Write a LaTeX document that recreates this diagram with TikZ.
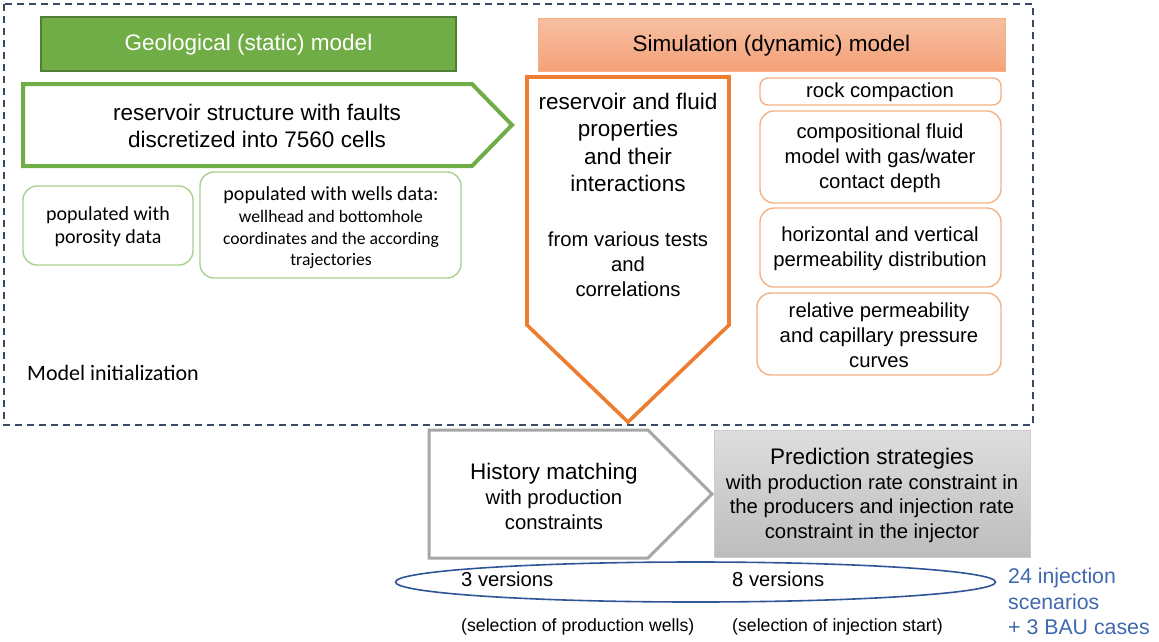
\documentclass[tikz,border=0pt]{standalone}
\usepackage{fontspec}
\setmainfont{Liberation Sans}
\newfontfamily\calibrifont{Carlito}
\definecolor{geo}{HTML}{70AD47}
\definecolor{geodark}{HTML}{507E32}
\definecolor{geolight}{HTML}{A9D18E}
\definecolor{orng}{HTML}{ED7D31}
\definecolor{orlight}{HTML}{F4B183}
\definecolor{ortop}{HTML}{F7C0A2}
\definecolor{orbot}{HTML}{F4A078}
\definecolor{dashc}{HTML}{3A4A66}
\definecolor{grayline}{HTML}{A6A6A6}
\definecolor{ellblue}{HTML}{2F5597}
\definecolor{txtblue}{HTML}{4068AE}
\tikzset{
  dashbox/.style={draw=dashc, line width=2pt, dash pattern=on 7pt off 5pt},
  greenarrow/.style={draw=geo, line width=4pt, line join=miter, fill=white},
  orangearrow/.style={draw=orng, line width=3.6pt, line join=miter, fill=white},
  grayarrow/.style={draw=grayline, line width=3pt, line join=miter, fill=white},
  greenbox/.style={draw=geolight, line width=1.4pt, rounded corners=14pt},
  orangebox/.style={draw=orlight, line width=1.4pt, rounded corners=14pt},
  txt/.style={inner sep=0pt, align=center, text=black},
  big/.style={font=\fontsize{22.5}{27.3}\selectfont},
  mid/.style={font=\fontsize{20.3}{24.8}\selectfont},
}
\begin{document}
\begin{tikzpicture}[x=1pt,y=-1pt]
\useasboundingbox (0,0) rectangle (1159,641);

% dashed frame
\draw[dashbox] (4,4) rectangle (1033,425);

% geological header
\path[fill=geo, draw=geodark, line width=1.2pt] (41,17) rectangle (456,71);
\node[txt, big, text=white] (geohead) at (248.5,44.5) {Geological (static) model};

% green arrow
\draw[greenarrow] (23,84) -- (472,84) -- (512,125) -- (472,166) -- (23,166) -- cycle;
\node[txt, big] (structure) at (257,126) {reservoir structure with faults\\discretized into 7560 cells};

% green small boxes
\draw[greenbox] (23,186) rectangle (193,265);
\node[txt, font=\calibrifont\fontsize{20}{23.5}\selectfont] (porosity) at (108,226.5) {populated with\\porosity data};
\draw[greenbox] (200,172) rectangle (461,278);
\node[txt, font=\calibrifont\fontsize{17.6}{21.7}\selectfont] (wells) at (331,228) {{\fontsize{20}{21.7}\selectfont populated with wells data:}\\wellhead and bottomhole\\coordinates and the according\\trajectories};

% model initialization
\node[txt, anchor=west, font=\calibrifont\fontsize{22}{26}\selectfont] (init) at (27,373) {Model initialization};

% simulation header
\path[top color=ortop, bottom color=orbot, draw=orlight, line width=0.8pt] (538,18) rectangle (1005,71);
\node[txt, big] (simhead) at (771.5,45.5) {Simulation (dynamic) model};

% orange down arrow
\draw[orangearrow] (527,77) -- (729,77) -- (729,325) -- (628,422) -- (527,325) -- cycle;
\node[txt, big] (props) at (628,142.5) {reservoir and fluid\\properties\\ and their\\interactions};
\node[txt, mid] (tests) at (628,264) {from various tests\\and\\correlations};

% orange right boxes
\draw[orangebox, rounded corners=8pt] (760,78) rectangle (1001,105);
\node[txt, mid] (rock) at (880,92) {rock compaction};
\draw[orangebox] (760,111) rectangle (1001,203);
\node[txt, mid] (comp) at (880,158.5) {compositional fluid\\model with gas/water\\contact depth};
\draw[orangebox] (760,208) rectangle (1001,287);
\node[txt, mid] (perm) at (880,249) {horizontal and vertical\\permeability distribution};
\draw[orangebox] (757,293) rectangle (1001,375);
\node[txt, mid] (relperm) at (879,335) {relative permeability\\and capillary pressure\\curves};

% history matching
\draw[grayarrow] (429,430) -- (648,430) -- (712,494) -- (648,558) -- (429,558) -- cycle;
\node[txt, mid, align=center] (history) at (554,496.5) {{\fontsize{22.5}{24.8}\selectfont History matching}\\with production\\constraints};

% prediction strategies
\path[top color=black!13, bottom color=black!26, draw=black!20, line width=0.8pt] (714,430) rectangle (1030,557);
\node[txt, mid] (predict) at (872,495.5) {{\fontsize{22.5}{25.5}\selectfont Prediction strategies}\\with production rate constraint in\\the producers and injection rate\\constraint in the injector};

% ellipse and versions
\draw[draw=ellblue, line width=1.6pt] (695.5,582) ellipse [x radius=300pt, y radius=20pt];
\node[txt, anchor=west, font=\fontsize{20.2}{24}\selectfont] (v3) at (461,579) {3 versions};
\node[txt, anchor=west, font=\fontsize{20.2}{24}\selectfont] (v8) at (732,579) {8 versions};
\node[txt, anchor=west, font=\fontsize{17.7}{21}\selectfont] (sel1) at (461,627) {(selection of production wells)};
\node[txt, anchor=west, font=\fontsize{17.7}{21}\selectfont] (sel2) at (732,627) {(selection of injection start)};

% scenarios
\node[txt, anchor=north west, align=left, text=txtblue, font=\fontsize{21.3}{25.5}\selectfont] (scen) at (1008,568) {24 injection\\scenarios\\+ 3 BAU cases};
\end{tikzpicture}
\end{document}
